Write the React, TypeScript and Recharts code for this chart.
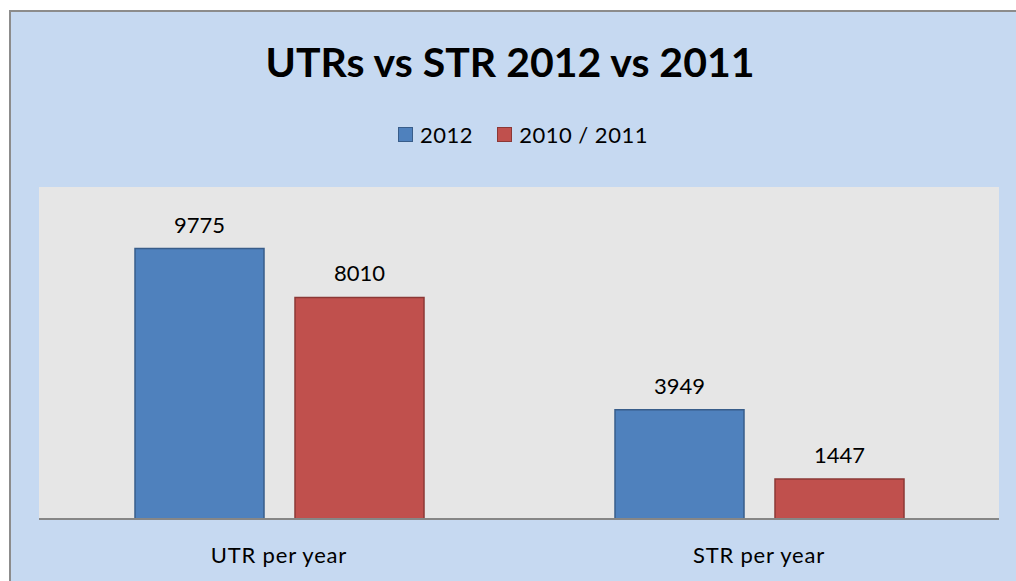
import { Bar, BarChart, CartesianGrid, LabelList, XAxis, YAxis } from "recharts";

const categories = ["UTR per year", "STR per year"];
const values2012 = [9775, 3949];
const values2011 = [8010, 1447];
const seriesNames = ["2012", "2010 / 2011"];

const data = categories.map((name, i) => ({
  name,
  y2012: values2012[i],
  y2011: values2011[i],
}));

const FONT = "Lato, 'Open Sans', sans-serif";
const BLUE = "#4f81bd";
const BLUE_EDGE = "#385d8a";
const RED = "#c0504d";
const RED_EDGE = "#8c3836";

function LegendBox() {
  const items = [
    { label: seriesNames[0], fill: BLUE, edge: BLUE_EDGE },
    { label: seriesNames[1], fill: RED, edge: RED_EDGE },
  ];
  return (
    <div
      style={{
        position: "absolute",
        left: 0,
        top: 121,
        width: 1046,
        display: "flex",
        justifyContent: "center",
        alignItems: "center",
        fontFamily: FONT,
        fontSize: 22,
        letterSpacing: 0.5,
      }}
    >
      {seriesNames.length > 0 &&
        items.map((it, i) => (
          <div key={it.label} style={{ display: "flex", alignItems: "center", marginLeft: i ? 24 : 0 }}>
            <span
              style={{
                display: "inline-block",
                width: 13,
                height: 13,
                background: it.fill,
                border: `1px solid ${it.edge}`,
                marginRight: 7,
              }}
            />
            <span style={{ color: "#000" }}>{it.label}</span>
          </div>
        ))}
    </div>
  );
}

export default function App() {
  return (
    <div style={{ position: "fixed", left: 0, top: 0, width: 1016, height: 581, background: "#fff", overflow: "hidden" }}>
      <div
        style={{
          position: "absolute",
          left: 9,
          top: 10,
          width: 1016,
          height: 581,
          background: "#c6d9f1",
          border: "2px solid #8c8c8c",
        }}
      />
      <div
        style={{
          position: "absolute",
          left: 0,
          top: 37,
          width: 1020,
          textAlign: "center",
          fontFamily: FONT,
          fontWeight: 700,
          fontSize: 41,
          color: "#000",
        }}
      >
        UTRs vs STR 2012 vs 2011
      </div>
      <LegendBox />
      <div style={{ position: "absolute", left: 0, top: 0 }}>
        <BarChart
          width={1016}
          height={581}
          data={data}
          margin={{ top: 187, right: 17, left: 39, bottom: 32 }}
          barSize={129}
          barGap={31}
        >
          <CartesianGrid horizontal={false} vertical={false} fill="#e6e6e6" stroke="none" />
          <XAxis
            dataKey="name"
            height={30}
            axisLine={{ stroke: "#868686", strokeWidth: 2 }}
            tickLine={false}
            tickSize={0}
            tickMargin={28}
            tick={{ fill: "#000", fontSize: 22, fontFamily: FONT, letterSpacing: 0.8 }}
          />
          <YAxis hide domain={[0, 12000]} />
          <Bar dataKey="y2012" name={seriesNames[0]} fill={BLUE} stroke={BLUE_EDGE} strokeWidth={1.5} isAnimationActive={false}>
            <LabelList dataKey="y2012" position="top" offset={16} fill="#000" fontSize={22} fontFamily={FONT} />
          </Bar>
          <Bar dataKey="y2011" name={seriesNames[1]} fill={RED} stroke={RED_EDGE} strokeWidth={1.5} isAnimationActive={false}>
            <LabelList dataKey="y2011" position="top" offset={16} fill="#000" fontSize={22} fontFamily={FONT} />
          </Bar>
        </BarChart>
      </div>
    </div>
  );
}
